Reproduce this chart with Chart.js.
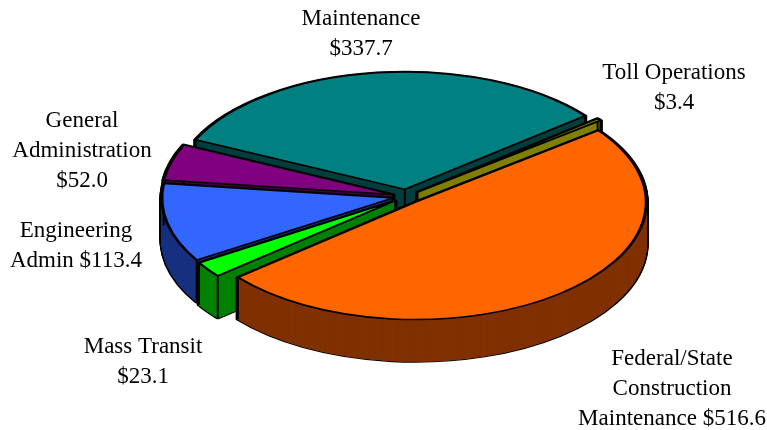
<!DOCTYPE html>
<html>
<head>
<meta charset="utf-8">
<style>html,body{margin:0;padding:0;background:#fff}canvas{display:block}</style>
<script src="https://cdn.jsdelivr.net/npm/chart.js@4"></script>
</head>
<body>
<canvas id="c" width="767" height="430"></canvas>
<script>
const categories = ['Federal/State Construction Maintenance','Mass Transit','Engineering Admin','General Administration','Maintenance','Toll Operations'];
const values = [516.6,23.1,113.4,52.0,337.7,3.4];
const topColors = ['#ff6600','#00ff00','#3366ff','#800080','#008080','#808000'];
const wallColors = ['#803300','#008000','#1a3380','#400040','#004040','#808000'];
const drawOrder = [4,5,3,2,1,0];
const labelLines = [
  ['Federal/State','Construction','Maintenance $516.6'],
  ['Mass Transit','$23.1'],
  ['Engineering','Admin $113.4'],
  ['General','Administration','$52.0'],
  ['Maintenance','$337.7'],
  ['Toll Operations','$3.4']
];
const labelAnchors = [[672,359],[143,347],[76,231],[82,121],[361,19],[674,73]];
const view = {cx:406.5, cy:196.5, rx:231, ry:117.5, depth:42, line:30, explode:14};

const pie3d = {
  id:'pie3d',
  beforeDatasetDraw(){ return false; },
  afterDatasetsDraw(chart){
    const ctx = chart.ctx, arcs = chart.getDatasetMeta(0).data;
    const R = arcs[0].outerRadius, sx = view.rx/R, sy = view.ry/R, e = view.explode/sx;
    const shift = arc => {
      const mid = (arc.startAngle + arc.endAngle)/2;
      return [Math.cos(mid)*e, Math.sin(mid)*e];
    };
    const place = (arc, d) => {
      const [ox, oy] = shift(arc);
      ctx.translate(view.cx, view.cy + d);
      ctx.scale(sx, sy);
      ctx.translate(ox - arc.x, oy - arc.y);
    };
    const screen = (arc, a, r) => {
      const [ox, oy] = shift(arc);
      return [view.cx + (ox + Math.cos(a)*r)*sx, view.cy + (oy + Math.sin(a)*r)*sy];
    };
    const paint = (arc, d, bg, bc, bw) => {
      const orig = arc.options;
      arc.options = Object.assign(Object.create(orig), {backgroundColor:bg, borderColor:bc, borderWidth:bw, borderAlign:'center', borderJoinStyle:'round'});
      ctx.save(); place(arc, d); arc.draw(ctx); ctx.restore();
      arc.options = orig;
    };
    for (const i of drawOrder) {
      const arc = arcs[i];
      for (let d = view.depth; d >= 0; d -= 1) paint(arc, d, '#000', '#000', 4.5);
      for (let d = view.depth; d >= 0; d -= 0.25) paint(arc, d, wallColors[i], wallColors[i], 1);
      ctx.save();
      ctx.strokeStyle = '#000'; ctx.lineWidth = 2;
      for (const [a, r] of [[arc.startAngle,R],[arc.endAngle,R],[arc.startAngle,0]]) {
        const [x, y] = screen(arc, a, r);
        ctx.beginPath(); ctx.moveTo(x, y); ctx.lineTo(x, y + view.depth); ctx.stroke();
      }
      ctx.restore();
      paint(arc, 0, topColors[i], '#000', 2.8);
    }
    ctx.save();
    ctx.fillStyle = '#000';
    ctx.font = '23px "Liberation Serif"';
    ctx.textAlign = 'center';
    ctx.textBaseline = 'middle';
    labelLines.forEach((lines, i) => {
      lines.forEach((t, k) => ctx.fillText(t, labelAnchors[i][0], labelAnchors[i][1] + k*view.line));
    });
    ctx.restore();
  }
};

new Chart(document.getElementById('c'), {
  type:'pie',
  data:{labels:categories, datasets:[{data:values, backgroundColor:topColors, borderColor:'#000', borderWidth:0, clip:false}]},
  options:{
    responsive:false, animation:false, rotation:52.4,
    layout:{padding:0},
    plugins:{legend:{display:false}, tooltip:{enabled:false}}
  },
  plugins:[pie3d]
});
</script>
</body>
</html>
